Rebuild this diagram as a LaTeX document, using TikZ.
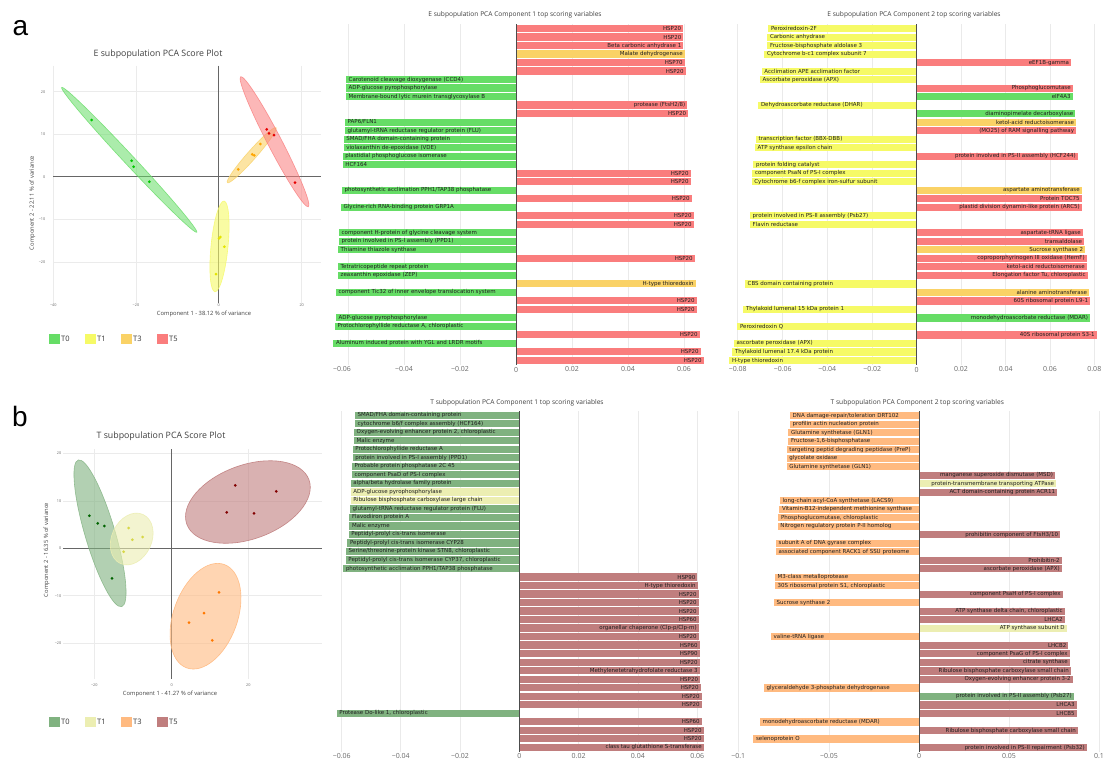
\documentclass[tikz,border=0pt]{standalone}
\usepackage{fontspec}
\setmainfont{Open Sans}
\newfontfamily\barfont{DejaVu Sans}
\newfontfamily\arialfont{Liberation Sans}
\definecolor{cG}{RGB}{102,221,102}
\definecolor{cY}{RGB}{246,250,102}
\definecolor{cO}{RGB}{250,210,102}
\definecolor{cR}{RGB}{250,125,125}
\definecolor{dG}{RGB}{128,178,128}
\definecolor{dY}{RGB}{236,238,178}
\definecolor{dO}{RGB}{255,186,128}
\definecolor{dR}{RGB}{192,126,126}
\definecolor{pG}{RGB}{0,200,0}
\definecolor{pY}{RGB}{228,228,0}
\definecolor{pO}{RGB}{255,165,0}
\definecolor{pR}{RGB}{230,0,0}
\definecolor{qG}{RGB}{0,100,0}
\definecolor{qY}{RGB}{215,215,70}
\definecolor{qO}{RGB}{255,120,0}
\definecolor{qR}{RGB}{130,0,0}
\definecolor{gridc}{RGB}{234,234,234}
\definecolor{txt}{RGB}{30,30,30}
\definecolor{tickc}{RGB}{105,105,105}
\newcommand\hb[4]{%
  \pgfmathsetmacro\yc{\ytop+(#1-1)*8.51}%
  \ifdim #2pt>\zx pt
    \fill[#3] (\zx,\yc-3.6) rectangle (#2,\yc+3.6);
    \node[lbl,anchor=east] (\pfx#1) at (#2-1.8,\yc) {#4};
  \else
    \fill[#3] (#2,\yc-3.6) rectangle (\zx,\yc+3.6);
    \node[lbl,anchor=west] (\pfx#1) at (#2+2.5,\yc) {#4};
  \fi}
\begin{document}
\begin{tikzpicture}[x=1pt,y=-1pt,
  lbl/.style={font=\barfont\fontsize{5.5}{6}\selectfont, text=txt, inner sep=0pt},
  ctitle/.style={font=\fontsize{6.6}{7}\selectfont, text=black!75, inner sep=0pt},
  tk/.style={font=\fontsize{7}{8}\selectfont, text=tickc, inner sep=0pt},
  gridl/.style={draw=gridc, line width=0.7pt},
  zaxis/.style={draw=black!70, line width=0.8pt},
  stitle/.style={font=\fontsize{8.8}{10}\selectfont, text=black!75, inner sep=0pt},
  axt/.style={font=\fontsize{5.8}{6}\selectfont, text=black!75, inner sep=0pt},
  stk/.style={font=\fontsize{3.8}{4}\selectfont, text=tickc, inner sep=0.5pt},
  sgrid/.style={draw=black!8, line width=0.8pt},
  szero/.style={draw=black!60, line width=0.9pt},
  legsq/.style={minimum width=11pt, minimum height=10pt, inner sep=0pt},
  legtx/.style={font=\fontsize{7.5}{8}\selectfont, text=black!80, anchor=west, inner sep=0pt},
  panel/.style={font=\arialfont\fontsize{28}{30}\selectfont, anchor=base west, inner sep=0pt},
  dotst/.style={radius=1.5}
]
\useasboundingbox (0,0) rectangle (1105,761);
\fill[white] (0,0) rectangle (1105,761);

% ===================== panel labels
\node[panel] (pa) at (12.5,35) {a};
\node[panel] (pb) at (12,426.7) {b};

% ===================== E score plot
\node[stitle] (est) at (158,54.5) {E subpopulation PCA Score Plot};
\foreach \x in {53.3,136,301.7} \draw[sgrid] (\x,65.7) -- (\x,303);
\foreach \y in {91.7,134.3,219.3,262} \draw[sgrid] (53,\y) -- (321,\y);
\draw[szero] (53,176.7) -- (321,176.7);
\draw[szero] (218.7,65.7) -- (218.7,303);
\foreach \y/\l [count=\i] in {91.7/20,134.3/10,176.7/0,219.3/−10,262/−20}
  \node[stk,anchor=east] (eyt\i) at (46,\y) {\l};
\foreach \x/\l [count=\i] in {53.3/−40,136/−20,218.7/0,301.7/20}
  \node[stk] (ext\i) at (\x,305.5) {\l};
\node[axt] (exa) at (204,314) {Component 1 - 38.12 \% of variance};
\node[axt,rotate=90] (eya) at (32.3,203) {Component 2 - 22.11 \% of variance};
\path[shift={(129.2,159.8)},rotate=-47,fill=cG,fill opacity=0.55,draw=cG,draw opacity=0.8,line width=0.6pt] (0,0) ellipse [x radius=99,y radius=5];
\path[shift={(219.5,246.4)},rotate=84.3,fill=cY,fill opacity=0.6,draw=cY,draw opacity=0.8,line width=0.6pt] (0,0) ellipse [x radius=45.6,y radius=8.5];
\path[shift={(251.7,155.2)},rotate=48.5,fill=cO,fill opacity=0.6,draw=cO,draw opacity=0.8,line width=0.6pt] (0,0) ellipse [x radius=36.7,y radius=4.5];
\path[shift={(274.5,141.7)},rotate=-62.5,fill=cR,fill opacity=0.55,draw=cR,draw opacity=0.8,line width=0.6pt] (0,0) ellipse [x radius=73.3,y radius=7];
\foreach \x/\y in {91.7/120,131.7/160.7,133.7/166.7,149.3/181.7} \fill[pG] (\x,\y) circle[dotst];
\foreach \x/\y in {219/238.3,220.3/237,224.3/246.7,216/274} \fill[pY] (\x,\y) circle[dotst];
\foreach \x/\y in {238.3/169.3,252.3/154.3,254.3/155.3,260.3/144} \fill[pO] (\x,\y) circle[dotst];
\foreach \x/\y in {266.7/129.3,269/133.3,274/135,295/182.7} \fill[pR] (\x,\y) circle[dotst];
\node[legsq,fill=cG] (ela0) at (54.5,339) {};
\node[legtx] (elt0) at (61,339) {T0};
\node[legsq,fill=cY] (ela1) at (90.5,339) {};
\node[legtx] (elt1) at (97,339) {T1};
\node[legsq,fill=cO] (ela3) at (126.5,339) {};
\node[legtx] (elt3) at (133,339) {T3};
\node[legsq,fill=cR] (ela5) at (162.5,339) {};
\node[legtx] (elt5) at (169,339) {T5};

% ===================== T score plot
\node[stitle] (tst) at (161,436.7) {T subpopulation PCA Score Plot};
\foreach \x in {94.3,248.3} \draw[sgrid] (\x,449) -- (\x,679);
\foreach \y in {453.3,501,595.7,643} \draw[sgrid] (63.3,\y) -- (321.7,\y);
\draw[szero] (63.3,548.3) -- (321.7,548.3);
\draw[szero] (171.7,449) -- (171.7,679);
\foreach \y/\l [count=\i] in {453.3/20,501/10,548.3/0,595.7/−10,643/−20}
  \node[stk,anchor=east] (tyt\i) at (62,\y) {\l};
\foreach \x/\l [count=\i] in {94.3/−20,171.7/0,248.3/20}
  \node[stk] (txt\i) at (\x,685) {\l};
\node[axt] (txa) at (170,694.3) {Component 1 - 41.27 \% of variance};
\node[axt,rotate=90] (tya) at (46.7,550) {Component 2 - 16.35 \% of variance};
\path[shift={(100,533.3)},rotate=-73.5,fill=dG,fill opacity=0.6,draw=dG,draw opacity=0.8,line width=0.6pt] (0,0) ellipse [x radius=76.5,y radius=15];
\path[shift={(131.7,539)},rotate=65,fill=dY,fill opacity=0.6,draw=dY,draw opacity=0.9,line width=0.6pt] (0,0) ellipse [x radius=27,y radius=20];
\path[shift={(205.5,616.2)},rotate=70,fill=dO,fill opacity=0.6,draw=dO,draw opacity=0.9,line width=0.6pt] (0,0) ellipse [x radius=55,y radius=32];
\path[shift={(247.9,502)},rotate=20,fill=dR,fill opacity=0.6,draw=dR,draw opacity=0.9,line width=0.6pt] (0,0) ellipse [x radius=65,y radius=37];
\foreach \x/\y in {89.3/515.7,97.7/523.3,104.3/526,112/578.3} \fill[qG] (\x,\y) circle[dotst];
\foreach \x/\y in {128.7/528,132.3/539.7,142.7/537,123.7/551.7} \fill[qY] (\x,\y) circle[dotst];
\foreach \x/\y in {219/592.3,204/613,189/622.7,212.3/640.3} \fill[qO] (\x,\y) circle[dotst];
\foreach \x/\y in {235.3/485.3,276.3/491.3,226.7/512.3,254/513.3} \fill[qR] (\x,\y) circle[dotst];
\node[legsq,fill=dG] (tla0) at (54.5,721.7) {};
\node[legtx] (tlt0) at (61,721.7) {T0};
\node[legsq,fill=dY] (tla1) at (90.5,721.7) {};
\node[legtx] (tlt1) at (97,721.7) {T1};
\node[legsq,fill=dO] (tla3) at (126.5,721.7) {};
\node[legtx] (tlt3) at (133,721.7) {T3};
\node[legsq,fill=dR] (tla5) at (162.5,721.7) {};
\node[legtx] (tlt5) at (169,721.7) {T5};

% ===================== E component 1
\node[ctitle] (c1t) at (515,15) {E subpopulation PCA Component 1 top scoring variables};
\foreach \x in {348,404,460,572,628,684} \draw[gridl] (\x,24) -- (\x,365);
\def\zx{516}\def\ytop{28.5}\def\pfx{ea}
\hb{1}{683}{cR}{HSP20}
\hb{2}{683.3}{cR}{HSP20}
\hb{3}{683.3}{cR}{Beta carbonic anhydrase 1}
\hb{4}{684.7}{cO}{Malate dehydrogenase}
\hb{5}{684.7}{cR}{HSP70}
\hb{6}{685.7}{cR}{HSP20}
\hb{7}{346}{cG}{Carotenoid cleavage dioxygenase (CCD4)}
\hb{8}{346}{cG}{ADP-glucose pyrophosphorylase}
\hb{9}{346}{cG}{Membrane-bound lytic murein transglycosylase B}
\hb{10}{687.3}{cR}{protease (FtsH2/8)}
\hb{11}{688}{cR}{HSP20}
\hb{12}{345}{cG}{PAP6/FLN1}
\hb{13}{345}{cG}{glutamyl-tRNA reductase regulator protein (FLU)}
\hb{14}{343.7}{cG}{SMAD/FHA domain-containing protein}
\hb{15}{343.7}{cG}{violaxanthin de-epoxidase (VDE)}
\hb{16}{342.7}{cG}{plastidial phosphoglucose isomerase}
\hb{17}{342.7}{cG}{HCF164}
\hb{18}{690.7}{cR}{HSP20}
\hb{19}{690.7}{cR}{HSP20}
\hb{20}{342}{cG}{photosynthetic acclimation PPH1/TAP38 phosphatase}
\hb{21}{691.7}{cR}{HSP20}
\hb{22}{341}{cG}{Glycine-rich RNA-binding protein GRP1A}
\hb{23}{693.7}{cR}{HSP20}
\hb{24}{693.7}{cR}{HSP20}
\hb{25}{339}{cG}{component H-protein of glycine cleavage system}
\hb{26}{339}{cG}{protein involved in PS-I assembly (PPD1)}
\hb{27}{338}{cG}{Thiamine thiazole synthase}
\hb{28}{694.7}{cR}{HSP20}
\hb{29}{338}{cG}{Tetratricopeptide repeat protein}
\hb{30}{338}{cG}{zeaxanthin epoxidase (ZEP)}
\hb{31}{695.7}{cO}{H-type thioredoxin}
\hb{32}{336}{cG}{component Tic32 of inner envelope translocation system}
\hb{33}{696.7}{cR}{HSP20}
\hb{34}{696.7}{cR}{HSP20}
\hb{35}{336}{cG}{ADP-glucose pyrophosphorylase}
\hb{36}{335}{cG}{Protochlorophyllide reductase A, chloroplastic}
\hb{37}{699.7}{cR}{HSP20}
\hb{38}{333.3}{cG}{Aluminum induced protein with YGL and LRDR motifs}
\hb{39}{700.7}{cR}{HSP20}
\hb{40}{703.7}{cR}{HSP20}
\draw[zaxis] (516,24) -- (516,365);
\foreach \x/\l [count=\i] in {342/−0.06,404/−0.04,460/−0.02,516/0,572/0.02,628/0.04,684/0.06}
  \node[tk] (eat\i) at (\x,369.5) {\l};

% ===================== E component 2
\node[ctitle] (c2t) at (914,15) {E subpopulation PCA Component 2 top scoring variables};
\foreach \x in {737.7,782.7,827.3,872.3,961,1005.7,1050,1094.3} \draw[gridl] (\x,24) -- (\x,365);
\def\zx{916.7}\def\ytop{28.6}\def\pfx{eb}
\hb{1}{768.3}{cY}{Peroxiredoxin-2F}
\hb{2}{767.3}{cY}{Carbonic anhydrase}
\hb{3}{767.3}{cY}{Fructose-bisphosphate aldolase 3}
\hb{4}{764.3}{cY}{Cytochrome b-c1 complex subunit 7}
\hb{5}{1071}{cR}{eEF1B-gamma}
\hb{6}{761.7}{cY}{Acclimation APE acclimation factor}
\hb{7}{760}{cY}{Ascorbate peroxidase (APX)}
\hb{8}{1072.7}{cR}{Phosphoglucomutase}
\hb{9}{1072.7}{cG}{eIF4A3}
\hb{10}{758.3}{cY}{Dehydroascorbate reductase (DHAR)}
\hb{11}{1075.3}{cG}{diaminopimelate decarboxylase}
\hb{12}{1076}{cO}{ketol-acid reductoisomerase}
\hb{13}{1076}{cR}{(MO25) of RAM signalling pathway}
\hb{14}{756}{cY}{transcription factor (BBX-DBB)}
\hb{15}{755}{cY}{ATP synthase epsilon chain}
\hb{16}{1077.7}{cR}{protein involved in PS-II assembly (HCF244)}
\hb{17}{753.3}{cY}{protein folding catalyst}
\hb{18}{752.3}{cY}{component PsaN of PS-I complex}
\hb{19}{751.7}{cY}{Cytochrome b6-f complex iron-sulfur subunit}
\hb{20}{1081.7}{cO}{aspartate aminotransferase}
\hb{21}{1081.7}{cR}{Protein TOC75}
\hb{22}{1081.7}{cR}{plastid division dynamin-like protein (ARC5)}
\hb{23}{750}{cY}{protein involved in PS-II assembly (Psb27)}
\hb{24}{750}{cY}{Flavin reductase}
\hb{25}{1082.7}{cR}{aspartate-tRNA ligase}
\hb{26}{1084}{cR}{transaldolase}
\hb{27}{1085}{cO}{Sucrose synthase 2}
\hb{28}{1086.7}{cR}{coproporphyrinogen III oxidase (HemF)}
\hb{29}{1086.7}{cR}{ketol-acid reductoisomerase}
\hb{30}{1087.7}{cR}{Elongation factor Tu, chloroplastic}
\hb{31}{745}{cY}{CBS domain containing protein}
\hb{32}{1089}{cO}{alanine aminotransferase}
\hb{33}{1090}{cR}{60S ribosomal protein L9-1}
\hb{34}{743.3}{cY}{Thylakoid lumenal 15 kDa protein 1}
\hb{35}{1090}{cG}{monodehydroascorbate reductase (MDAR)}
\hb{36}{737.3}{cY}{Peroxiredoxin Q}
\hb{37}{1096.7}{cR}{40S ribosomal protein S3-1}
\hb{38}{734}{cY}{ascorbate peroxidase (APX)}
\hb{39}{732.3}{cY}{Thylakoid lumenal 17.4 kDa protein}
\hb{40}{729.3}{cY}{H-type thioredoxin}
\draw[zaxis] (916.7,24) -- (916.7,365);
\foreach \x/\l [count=\i] in {737.7/−0.08,782.7/−0.06,827.3/−0.04,872.3/−0.02,916.7/0,961/0.02,1005.7/0.04,1050/0.06,1094.3/0.08}
  \node[tk] (ebt\i) at (\x,369.5) {\l};

% ===================== T component 1
\node[ctitle] (c3t) at (517,402.7) {T subpopulation PCA Component 1 top scoring variables};
\foreach \x in {341.4,400.7,460,578.6,637.9,697.2} \draw[gridl] (\x,411) -- (\x,752);
\def\zx{519.3}\def\ytop{415.3}\def\pfx{ta}
\hb{1}{355}{dG}{SMAD/FHA domain-containing protein}
\hb{2}{355}{dG}{cytochrome b6/f complex assembly (HCF164)}
\hb{3}{354}{dG}{Oxygen-evolving enhancer protein 2, chloroplastic}
\hb{4}{354}{dG}{Malic enzyme}
\hb{5}{352.7}{dG}{Protochlorophyllide reductase A}
\hb{6}{352.7}{dG}{protein involved in PS-I assembly (PPD1)}
\hb{7}{352}{dG}{Probable protein phosphatase 2C 45}
\hb{8}{352}{dG}{component PsaD of PS-I complex}
\hb{9}{350.7}{dG}{alpha/beta hydrolase family protein}
\hb{10}{350.7}{dY}{ADP-glucose pyrophosphorylase}
\hb{11}{350.7}{dY}{Ribulose bisphosphate carboxylase large chain}
\hb{12}{350}{dG}{glutamyl-tRNA reductase regulator protein (FLU)}
\hb{13}{349.3}{dG}{Flavodiiron protein A}
\hb{14}{349.3}{dG}{Malic enzyme}
\hb{15}{348.7}{dG}{Peptidyl-prolyl cis-trans isomerase}
\hb{16}{347.3}{dG}{Peptidyl-prolyl cis-trans isomerase CYP28}
\hb{17}{346}{dG}{Serine/threonine-protein kinase STN8, chloroplastic}
\hb{18}{345.7}{dG}{Peptidyl-prolyl cis-trans isomerase CYP37, chloroplastic}
\hb{19}{343.3}{dG}{photosynthetic acclimation PPH1/TAP38 phosphatase}
\hb{20}{697.3}{dR}{HSP90}
\hb{21}{697.7}{dR}{H-type thioredoxin}
\hb{22}{698.7}{dR}{HSP20}
\hb{23}{698.7}{dR}{HSP20}
\hb{24}{698.7}{dR}{HSP20}
\hb{25}{698.7}{dR}{HSP60}
\hb{26}{698.7}{dR}{organellar chaperone (Clp-p/Clp-m)}
\hb{27}{698.7}{dR}{HSP20}
\hb{28}{699.7}{dR}{HSP60}
\hb{29}{699.7}{dR}{HSP90}
\hb{30}{699.7}{dR}{HSP20}
\hb{31}{699.7}{dR}{Methylenetetrahydrofolate reductase 3}
\hb{32}{700}{dR}{HSP20}
\hb{33}{700.7}{dR}{HSP20}
\hb{34}{701.7}{dR}{HSP20}
\hb{35}{701.7}{dR}{HSP20}
\hb{36}{336.7}{dG}{Protease Do-like 1, chloroplastic}
\hb{37}{701.7}{dR}{HSP60}
\hb{38}{703.7}{dR}{HSP20}
\hb{39}{703.7}{dR}{HSP20}
\hb{40}{703.7}{dR}{class tau glutathione S-transferase}
\draw[zaxis] (519.3,411) -- (519.3,752);
\foreach \x/\l [count=\i] in {341.7/−0.06,400.7/−0.04,460/−0.02,519.3/0,578.6/0.02,637.9/0.04,697.2/0.06}
  \node[tk] (tat\i) at (\x,756) {\l};

% ===================== T component 2
\node[ctitle] (c4t) at (917.3,402.7) {T subpopulation PCA Component 2 top scoring variables};
\foreach \x in {738.3,829,1009,1099} \draw[gridl] (\x,411) -- (\x,752);
\def\zx{919}\def\ytop{415.6}\def\pfx{tb}
\hb{1}{790}{dO}{DNA damage-repair/toleration DRT102}
\hb{2}{790}{dO}{profilin actin nucleation protein}
\hb{3}{788.3}{dO}{Glutamine synthetase (GLN1)}
\hb{4}{788.3}{dO}{Fructose-1,6-bisphosphatase}
\hb{5}{786.7}{dO}{targeting peptid degrading peptidase (PreP)}
\hb{6}{786.7}{dO}{glycolate oxidase}
\hb{7}{786.7}{dO}{Glutamine synthetase (GLN1)}
\hb{8}{1055}{dR}{manganese superoxide dismutase (MSD)}
\hb{9}{1056}{dY}{protein-transmembrane transporting ATPase}
\hb{10}{1057}{dR}{ACT domain-containing protein ACR11}
\hb{11}{780}{dO}{long-chain acyl-CoA synthetase (LACS9)}
\hb{12}{779.3}{dO}{Vitamin-B12-independent methionine synthase}
\hb{13}{778.3}{dO}{Phosphoglucomutase, chloroplastic}
\hb{14}{777.7}{dO}{Nitrogen regulatory protein P-II homolog}
\hb{15}{1060}{dR}{prohibitin component of FtsH3/10}
\hb{16}{776}{dO}{subunit A of DNA gyrase complex}
\hb{17}{776}{dO}{associated component RACK1 of SSU proteome}
\hb{18}{1061.7}{dR}{Prohibitin-2}
\hb{19}{1061.7}{dR}{ascorbate peroxidase (APX)}
\hb{20}{775}{dO}{M3-class metalloprotease}
\hb{21}{775}{dO}{30S ribosomal protein S1, chloroplastic}
\hb{22}{1062.7}{dR}{component PsaH of PS-I complex}
\hb{23}{774}{dO}{Sucrose synthase 2}
\hb{24}{1064.7}{dR}{ATP synthase delta chain, chloroplastic}
\hb{25}{1064.7}{dR}{LHCA2}
\hb{26}{1066.7}{dY}{ATP synthase subunit D}
\hb{27}{771}{dO}{valine-tRNA ligase}
\hb{28}{1068.3}{dR}{LHCB2}
\hb{29}{1069.7}{dR}{component PsaG of PS-I complex}
\hb{30}{1069.7}{dR}{citrate synthase}
\hb{31}{1070.7}{dR}{Ribulose bisphosphate carboxylase small chain}
\hb{32}{1072.7}{dR}{Oxygen-evolving enhancer protein 3-2}
\hb{33}{764}{dO}{glyceraldehyde 3-phosphate dehydrogenase}
\hb{34}{1073.7}{dG}{protein involved in PS-II assembly (Psb27)}
\hb{35}{1076.7}{dR}{LHCA3}
\hb{36}{1076.7}{dR}{LHCB5}
\hb{37}{760}{dO}{monodehydroascorbate reductase (MDAR)}
\hb{38}{1077.7}{dR}{Ribulose bisphosphate carboxylase small chain}
\hb{39}{753.3}{dO}{selenoprotein O}
\hb{40}{1086.7}{dR}{protein involved in PS-II repairment (Psb32)}
\draw[zaxis] (919,411) -- (919,752);
\foreach \x/\l [count=\i] in {738.3/−0.1,829/−0.05,919/0,1009/0.05,1099/0.1}
  \node[tk] (tbt\i) at (\x,756) {\l};
\end{tikzpicture}
\end{document}
